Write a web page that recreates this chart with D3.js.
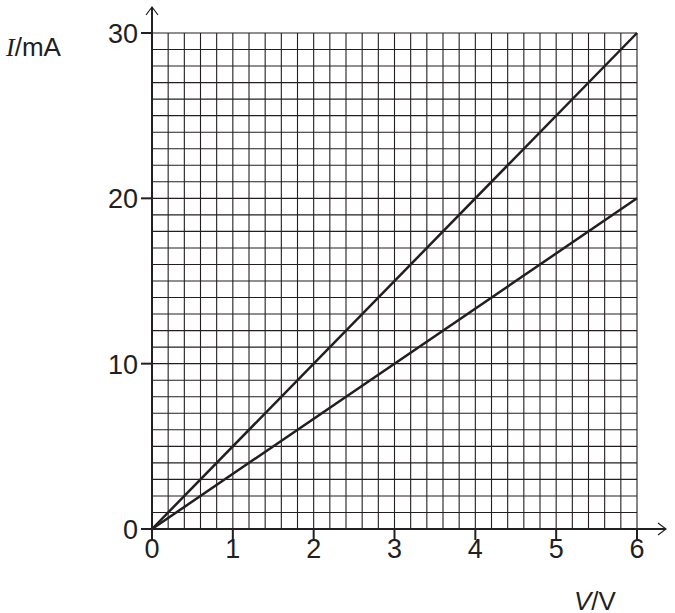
<!DOCTYPE html>
<html lang="en">
<head>
  <meta charset="UTF-8" />
  <script src="https://d3js.org/d3.v7.min.js"></script>
  <style>
    body { margin: 0; background: #fff; font-family: Arial, "Liberation Sans", sans-serif; }
    text { font-family: Arial, "Liberation Sans", sans-serif; fill: #231f20; }
  </style>
</head>
<body>
  <svg id="chart" width="675" height="613"></svg>
  <script>
    const xTicks = [0, 1, 2, 3, 4, 5, 6];
    const yTicks = [0, 10, 20, 30];
    const lineA = [[0, 0], [6, 30]];
    const lineB = [[0, 0], [6, 20]];

    const svg = d3.select("#chart");
    const x = d3.scaleLinear().domain([0, 6]).range([152, 637]);
    const y = d3.scaleLinear().domain([0, 30]).range([529, 33]);
    const ink = "#231f20";

    // grid
    const g = svg.append("g");
    d3.range(0, 6.001, 0.2).forEach(v => {
      g.append("line").attr("x1", x(v)).attr("x2", x(v)).attr("y1", y(0)).attr("y2", y(30))
        .attr("stroke", ink).attr("stroke-width", 1.1);
    });
    d3.range(0, 31, 1).forEach(v => {
      g.append("line").attr("x1", x(0)).attr("x2", x(6)).attr("y1", y(v)).attr("y2", y(v))
        .attr("stroke", ink).attr("stroke-width", 1.1);
    });

    // axes with arrows
    svg.append("line").attr("x1", x(0)).attr("x2", 665).attr("y1", y(0)).attr("y2", y(0)).attr("stroke", ink).attr("stroke-width", 2);
    svg.append("line").attr("x1", x(0)).attr("x2", x(0)).attr("y1", y(0)).attr("y2", 8).attr("stroke", ink).attr("stroke-width", 2);
    svg.append("path").attr("d", `M658,${y(0)-6} L666,${y(0)} L658,${y(0)+6}`).attr("fill", "none").attr("stroke", ink).attr("stroke-width", 1.2);
    svg.append("path").attr("d", `M${x(0)-6},15 L${x(0)},7 L${x(0)+6},15`).attr("fill", "none").attr("stroke", ink).attr("stroke-width", 1.2);

    xTicks.forEach(t => {
      svg.append("line").attr("x1", x(t)).attr("x2", x(t)).attr("y1", y(0)).attr("y2", y(0) + 11).attr("stroke", ink).attr("stroke-width", 2);
      svg.append("text").attr("x", x(t)).attr("y", y(0) + 29).attr("text-anchor", "middle").attr("font-size", 27).text(t);
    });
    yTicks.forEach(t => {
      svg.append("line").attr("x1", x(0) - 11).attr("x2", x(0)).attr("y1", y(t)).attr("y2", y(t)).attr("stroke", ink).attr("stroke-width", 2);
      svg.append("text").attr("x", x(0) - 14).attr("y", y(t) + 10).attr("text-anchor", "end").attr("font-size", 27).text(t);
    });

    const line = d3.line().x(d => x(d[0])).y(d => y(d[1]));
    [lineA, lineB].forEach(d => {
      svg.append("path").datum(d).attr("d", line).attr("fill", "none").attr("stroke", ink).attr("stroke-width", 2.5);
    });

    svg.append("text").attr("x", 6).attr("y", 56).attr("font-size", 26)
      .html('<tspan font-style="italic" font-family="Times New Roman, Liberation Serif, serif">I</tspan><tspan>/mA</tspan>');
    svg.append("text").attr("x", 574).attr("y", 610).attr("font-size", 26)
      .html('<tspan font-style="italic">V</tspan><tspan>/V</tspan>');
  </script>
</body>
</html>
